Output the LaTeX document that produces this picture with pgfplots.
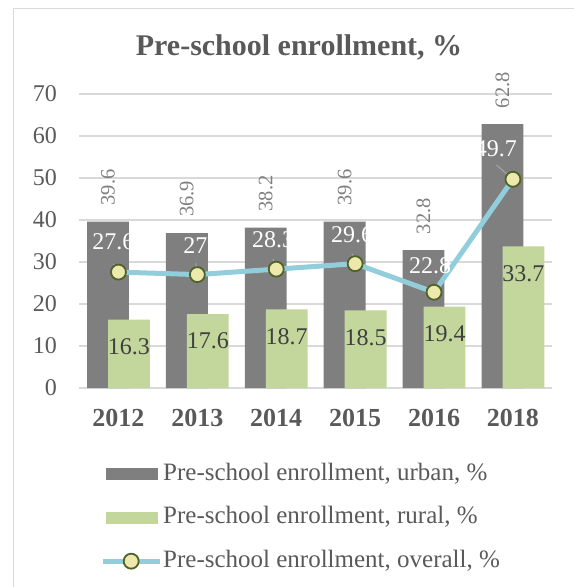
\documentclass[border=0pt]{standalone}
\usepackage{pgfplots}
\pgfplotsset{compat=1.18}
\usepackage{pgfplotstable}
\usepackage{fontspec}
\setmainfont{Liberation Serif}
\definecolor{urban}{HTML}{7F7F7F}
\definecolor{rural}{HTML}{C3D69B}
\definecolor{linec}{HTML}{92CDDC}
\definecolor{markfill}{HTML}{EDE8AC}
\definecolor{markdraw}{HTML}{4F6228}
\definecolor{textgray}{HTML}{595959}
\definecolor{labgray}{HTML}{7F7F7F}
\definecolor{rurallab}{HTML}{404040}
\definecolor{gridgray}{HTML}{D9D9D9}
\definecolor{leadgray}{HTML}{A6A6A6}

\pgfplotsset{lineleg/.style={legend image code/.code={\draw[mark repeat=2,mark phase=2,##1] plot coordinates {(0pt,0pt) (28.5pt,0pt) (57pt,0pt)};}}}

\pgfplotstableread{
x urban rural overall dx dy u v
0 39.6 16.3 27.6 -5 30 -0.063 1.98
1 36.9 17.6 27.0 -2 29 -0.020 2.8
2 38.2 18.7 28.3 -3 29 -0.040 2.4
3 39.6 18.5 29.6 -3 29 -0.040 2.4
4 32.8 19.4 22.8 -4 27 0 0
5 62.8 33.7 49.7 -17 31 -0.21 3.4
}\data

\begin{document}
\begin{tikzpicture}
\useasboundingbox (-79pt,-199pt) rectangle (495pt,388pt);
\draw[color=gridgray, line width=1pt] (-65pt,-199pt) -- (-65pt,379pt) -- (495pt,379pt);
\begin{axis}[
  at={(0pt,0pt)}, anchor=south west,
  scale only axis,
  width=473.4pt, height=294pt,
  xmin=-0.5, xmax=5.5,
  ymin=0, ymax=70,
  ytick={0,10,...,70},
  xtick={0,1,2,3,4,5},
  xticklabels={2012,2013,2014,2015,2016,2018},
  /pgf/number format/assume math mode=true,
  ymajorgrids,
  grid style={line width=1.2pt, color=gridgray},
  axis line style={draw=none},
  major tick length=0pt,
  clip=false,
  yticklabel style={font=\fontsize{24}{28}\selectfont, text=textgray, inner sep=0pt, xshift=-22pt},
  xticklabel style={font=\bfseries\fontsize{26}{30}\selectfont, text=textgray, inner sep=0pt, anchor=north, yshift=-21pt},
  legend cell align=left,
  legend style={at={(axis description cs:0.04436,-0.2550)}, anchor=north west,
    draw=none, fill=none, inner sep=0pt, row sep=21.5pt, column sep=1pt,
    font=\fontsize{25}{29}\selectfont, text=textgray,
    nodes={inner sep=0pt, text height=17pt, text depth=5pt}},
]
\addplot[ybar, bar width=0.53, bar shift=-0.133, fill=urban, draw=none,
  legend image code/.code={\fill[urban] (3pt,-6pt) rectangle (55pt,6pt);}
] table[x=x, y=urban] {\data};
\addlegendentry{Pre-school enrollment, urban, \%}
\addplot[ybar, bar width=0.53, bar shift=0.133, fill=rural, draw=none,
  legend image code/.code={\fill[rural] (3pt,-6pt) rectangle (55pt,6pt);}
] table[x=x, y=rural] {\data};
\addlegendentry{Pre-school enrollment, rural, \%}
% urban value labels
\addplot[forget plot, draw=none, mark=none,
  nodes near coords={\pgfmathprintnumber[fixed,precision=1]{\pgfplotspointmeta}},
  every node near coord/.append style={rotate=90, anchor=west, inner xsep=16pt, inner ysep=0pt,
    font=\fontsize{20.5}{24}\selectfont, text=labgray}
] table[x expr=\thisrow{x}-0.133, y=urban] {\data};
% rural value labels
\addplot[forget plot, draw=none, mark=none,
  nodes near coords={\pgfmathprintnumber[fixed,precision=1]{\pgfplotspointmeta}},
  every node near coord/.append style={anchor=center, yshift=-27pt, inner sep=0pt,
    font=\fontsize{24}{28}\selectfont, text=rurallab}
] table[x expr=\thisrow{x}+0.133, y=rural] {\data};
\addplot[sharp plot, color=linec, line width=5pt, mark=*,
  mark options={draw=markdraw, fill=markfill, line width=1.8pt, scale=1},
  mark size=7.5pt,
  visualization depends on={\thisrow{dx}\as\dx},
  visualization depends on={\thisrow{dy}\as\dy},
  nodes near coords={\pgfmathprintnumber[fixed,precision=1]{\pgfplotspointmeta}},
  every node near coord/.append style={anchor=center, xshift=\dx pt, yshift=\dy pt, inner sep=0pt,
    font=\fontsize{24}{28}\selectfont, text=white},
  lineleg
] table[x=x, y=overall] {\data};
\addlegendentry{Pre-school enrollment, overall, \%}
\addplot[forget plot, quiver={u=\thisrow{u}, v=\thisrow{v}}, draw=leadgray, line width=1pt, -]
  table[x=x, y=overall] {\data};
\end{axis}
\node[font=\bfseries\fontsize{30}{36}\selectfont, text=textgray] at (220pt,341pt) {Pre-school enrollment, \%};
\end{tikzpicture}
\end{document}
